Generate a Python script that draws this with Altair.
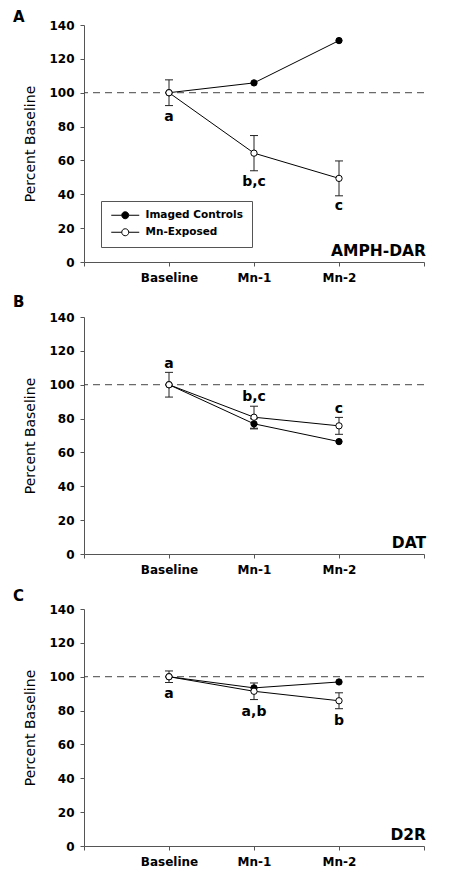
import altair as alt
import pandas as pd

FONT = "DejaVu Sans"

categories = ["Baseline", "Mn-1", "Mn-2"]
groups = ["Imaged Controls", "Mn-Exposed"]
ref_line = [100]

a_ctrl = [100, 105.8, 130.8]
a_ctrl_err = [None, None, None]
a_mn = [100, 64.3, 49.4]
a_mn_err = [7.6, 10.4, 10.3]
a_letters = ["a", "b,c", "c"]
a_letter_y = [83.3, 44.9, 30.8]

b_ctrl = [100, 76.9, 66.4]
b_ctrl_err = [None, 3.0, None]
b_mn = [100, 80.8, 75.7]
b_mn_err = [7.3, 6.5, 5.0]
b_letters = ["a", "b,c", "c"]
b_letter_y = [110.0, 90.3, 83.2]

c_ctrl = [100, 93.4, 96.9]
c_ctrl_err = [None, None, None]
c_mn = [100, 91.4, 85.8]
c_mn_err = [3.4, 4.9, 4.7]
c_letters = ["a", "a,b", "b"]
c_letter_y = [87.4, 76.7, 71.2]

panel_titles = ["AMPH-DAR", "DAT", "D2R"]
panel_letters = ["A", "B", "C"]
panel_letter_dy = [-3, -10, -8]

W, H = 340, 237

x_label_expr = ("datum.value == 1 ? 'Baseline' : datum.value == 2 ? 'Mn-1' : "
                "datum.value == 3 ? 'Mn-2' : ''")

LEGEND_SYMBOL = ("M-3.5,0H-0.875M0.875,0H3.5"
                 "M-0.875,0A0.875,0.875,0,1,1,0.875,0A0.875,0.875,0,1,1,-0.875,0Z")

xs = alt.Scale(domain=[0, 4], nice=False)
ys = alt.Scale(domain=[0, 140], nice=False)
xaxis = alt.Axis(values=[0, 1, 2, 3, 4], labelExpr=x_label_expr, title=None,
                 tickSize=4, labelPadding=6, labelOverlap=False, labelFlush=False)
yaxis = alt.Axis(tickCount=7, title="Percent Baseline",
                 tickSize=4, labelPadding=6, titlePadding=11,
                 labelOverlap=False, labelFlush=False)


def X(f):
    return alt.X(f, scale=xs, axis=xaxis)


def Y(f):
    return alt.Y(f, scale=ys, axis=yaxis)


def panel(ctrl, ctrl_err, mn, mn_err, letters, letter_y, title, letter, letter_dy, legend):
    rows = []
    for g, vals, errs in [(groups[0], ctrl, ctrl_err), (groups[1], mn, mn_err)]:
        for i, c in enumerate(categories):
            e = errs[i]
            rows.append({
                "group": g, "cat": c, "x": i + 1, "value": vals[i],
                "lo": None if e is None else vals[i] - e,
                "hi": None if e is None else vals[i] + e,
            })
    df = pd.DataFrame(rows)
    err_df = df.dropna(subset=["lo"])
    lab_df = pd.DataFrame({"x": [i + 1 for i in range(len(categories))],
                           "y": letter_y, "t": letters})

    dashed = alt.Chart(pd.DataFrame({"ref": ref_line})).mark_rule(
        strokeDash=[7, 5], color="#444", strokeWidth=1
    ).encode(y=Y("ref:Q"))

    lines = alt.Chart(df).mark_line(color="black", strokeWidth=1).encode(
        x=X("x:Q"), y=Y("value:Q"), detail="group:N",
    )

    rule = alt.Chart(err_df).mark_rule(color="#222", strokeWidth=1).encode(
        x=X("x:Q"), y=Y("lo:Q"), y2="hi:Q",
    )
    cap_lo = alt.Chart(err_df).mark_tick(orient="horizontal", size=8, thickness=1,
                                         color="#222", opacity=1).encode(
        x=X("x:Q"), y=Y("lo:Q"),
    )
    cap_hi = alt.Chart(err_df).mark_tick(orient="horizontal", size=8, thickness=1,
                                         color="#222", opacity=1).encode(
        x=X("x:Q"), y=Y("hi:Q"),
    )

    if legend:
        leg = alt.Legend(orient="none", legendX=17, legendY=176, title=None,
                         symbolType=LEGEND_SYMBOL, symbolSize=64,
                         symbolStrokeColor="black", symbolStrokeWidth=1,
                         symbolOffset=10, labelOffset=15,
                         labelFont=FONT, labelFontSize=10.5, labelFontWeight="bold",
                         labelColor="black", strokeColor="#555", fillColor="white",
                         padding=9, rowPadding=5)
    else:
        leg = None

    points = alt.Chart(df).mark_point(shape="circle", size=40, stroke="black",
                                      strokeWidth=1, opacity=1, fillOpacity=1).encode(
        x=X("x:Q"), y=Y("value:Q"),
        fill=alt.Fill("group:N", scale=alt.Scale(domain=groups, range=["black", "white"]),
                      legend=leg),
    )

    labels = alt.Chart(lab_df).mark_text(font=FONT, fontSize=14, fontWeight="bold",
                                         baseline="alphabetic", align="center",
                                         color="black").encode(
        x=X("x:Q"), y=Y("y:Q"), text="t:N",
    )

    ttl = alt.Chart(pd.DataFrame({"t": [title]})).mark_text(
        font=FONT, fontSize=15.5, fontWeight="bold", align="right",
        baseline="alphabetic", dx=2, color="black"
    ).encode(x=alt.datum(4), y=alt.datum(3.5), text="t:N")

    plet = alt.Chart(pd.DataFrame({"t": [letter]})).mark_text(
        font=FONT, fontSize=15, fontWeight="bold", align="left",
        baseline="alphabetic", color="black"
    ).encode(x=alt.value(-71), y=alt.value(letter_dy), text="t:N")

    return alt.layer(dashed, lines, rule, cap_lo, cap_hi, points, labels, ttl, plet).properties(
        width=W, height=H)


pA = panel(a_ctrl, a_ctrl_err, a_mn, a_mn_err, a_letters, a_letter_y,
           panel_titles[0], panel_letters[0], panel_letter_dy[0], True)
pB = panel(b_ctrl, b_ctrl_err, b_mn, b_mn_err, b_letters, b_letter_y,
           panel_titles[1], panel_letters[1], panel_letter_dy[1], False)
pC = panel(c_ctrl, c_ctrl_err, c_mn, c_mn_err, c_letters, c_letter_y,
           panel_titles[2], panel_letters[2], panel_letter_dy[2], False)

chart = alt.vconcat(pA, pB, pC, spacing=55, bounds="flush").resolve_scale(
    fill="independent").resolve_legend(fill="independent").properties(
    padding={"left": 5, "top": 2, "right": 5, "bottom": 5}
).configure_view(stroke=None).configure_axis(
    grid=False, domainColor="#555", tickColor="#555", domainWidth=1, tickWidth=1,
    labelFont=FONT, labelFontSize=12, labelFontWeight="bold", labelColor="black",
    titleFont=FONT, titleFontSize=14, titleFontWeight="normal", titleColor="black",
)

chart.save("out.html", embed_options={"renderer": "svg", "actions": False})
